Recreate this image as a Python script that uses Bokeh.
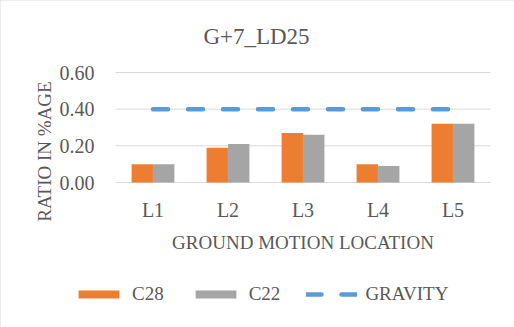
from bokeh.plotting import figure
from bokeh.models import (ColumnDataSource, Range1d, FixedTicker, NumeralTickFormatter,
                          Label, Legend, LegendItem)
from bokeh.transform import dodge
from bokeh.embed import file_html
from bokeh.resources import INLINE
import math

categories = ["L1", "L2", "L3", "L4", "L5"]
c28 = [0.10, 0.19, 0.27, 0.10, 0.32]
c22 = [0.10, 0.21, 0.26, 0.09, 0.32]
gravity = [0.40, 0.40, 0.40, 0.40, 0.40]
y_ticks = [0.0, 0.2, 0.4, 0.6]
title_text = "G+7_LD25"
x_title = "GROUND MOTION LOCATION"
y_title = "RATIO IN %AGE"

FONT = "Liberation Serif"
TXT = "#595959"
W, H = 514, 327
# plot area inside the canvas (pixels)
PL, PR, PT, PB = 115, 490, 72, 182
n = len(categories)
ymax = y_ticks[-1]
xs_per_px = n / (PR - PL)
ys_per_px = ymax / (PB - PT)

xpos = [i + 0.5 for i in range(n)]
src = ColumnDataSource(dict(x=xpos, c28=c28, c22=c22, g=gravity))

p = figure(width=W, height=H, output_backend="svg", toolbar_location=None,
           x_range=Range1d(-PL * xs_per_px, (W - PL) * xs_per_px),
           y_range=Range1d(-(H - PB) * ys_per_px, ymax + PT * ys_per_px),
           min_border=0, min_border_left=0, min_border_right=0,
           min_border_top=0, min_border_bottom=0,
           styles={"outline": "2px solid #D9D9D9", "outline-offset": "-2px"})
p.outline_line_color = None
p.xgrid.visible = False
p.ygrid.visible = False

# horizontal gridlines over the plot area only
p.segment(x0=[0] * len(y_ticks), x1=[n] * len(y_ticks), y0=y_ticks, y1=y_ticks,
          line_color="#D9D9D9", line_width=1)

r1 = p.vbar(x=dodge("x", -0.143), top="c28", width=0.285, source=src,
            fill_color="#ED7D31", line_color=None)
r2 = p.vbar(x=dodge("x", 0.143), top="c22", width=0.285, source=src,
            fill_color="#A5A5A5", line_color=None)
r3 = p.line(x="x", y="g", source=src, line_color="#5B9BD5", line_width=4.5,
            line_dash="15 20", line_cap="round")

p.xaxis.fixed_location = 0
p.yaxis.fixed_location = 0
p.xaxis.ticker = FixedTicker(ticks=xpos)
p.xaxis.major_label_overrides = {x: c for x, c in zip(xpos, categories)}
p.yaxis.ticker = FixedTicker(ticks=y_ticks)
p.yaxis.formatter = NumeralTickFormatter(format="0.00")
for ax in (p.xaxis[0], p.yaxis[0]):
    ax.axis_line_color = None
    ax.major_tick_line_color = None
    ax.minor_tick_line_color = None
    ax.major_tick_out = 0
    ax.major_tick_in = 0
    ax.major_label_text_font = FONT
    ax.major_label_text_color = TXT
    ax.major_label_text_font_size = "20px"
p.yaxis.major_label_standoff = 21
p.xaxis.major_label_standoff = 16

# title, axis titles (screen units measured from the bottom-left of the canvas)
p.add_layout(Label(x=W / 2 - 1, y=H - 36, x_units="screen", y_units="screen", text=title_text,
                   text_font=FONT, text_font_size="23px", text_color=TXT,
                   text_align="center", text_baseline="alphabetic"))
p.add_layout(Label(x=(PL + PR) / 2, y=H - 242, x_units="screen", y_units="screen", text=x_title,
                   text_font=FONT, text_font_size="19px", text_color=TXT,
                   text_align="center", text_baseline="alphabetic"))
p.add_layout(Label(x=44, y=H - 151, x_units="screen", y_units="screen", text=y_title,
                   angle=math.pi / 2, text_font=FONT, text_font_size="19px",
                   text_color=TXT, text_align="center", text_baseline="alphabetic"))

legend = Legend(items=[LegendItem(label="C28", renderers=[r1]),
                       LegendItem(label="C22", renderers=[r2]),
                       LegendItem(label="GRAVITY", renderers=[r3])],
                orientation="horizontal", location=(73, H - 305))
legend.glyph_width = 51
legend.glyph_height = 10
legend.label_height = 20
legend.label_standoff = 8
legend.spacing = 26
legend.padding = 0
legend.margin = 0
legend.border_line_color = None
legend.background_fill_alpha = 0
legend.label_text_font = FONT
legend.label_text_font_size = "19px"
legend.label_text_color = TXT
p.add_layout(legend, "center")

open("out.html", "w").write(file_html(p, INLINE))
